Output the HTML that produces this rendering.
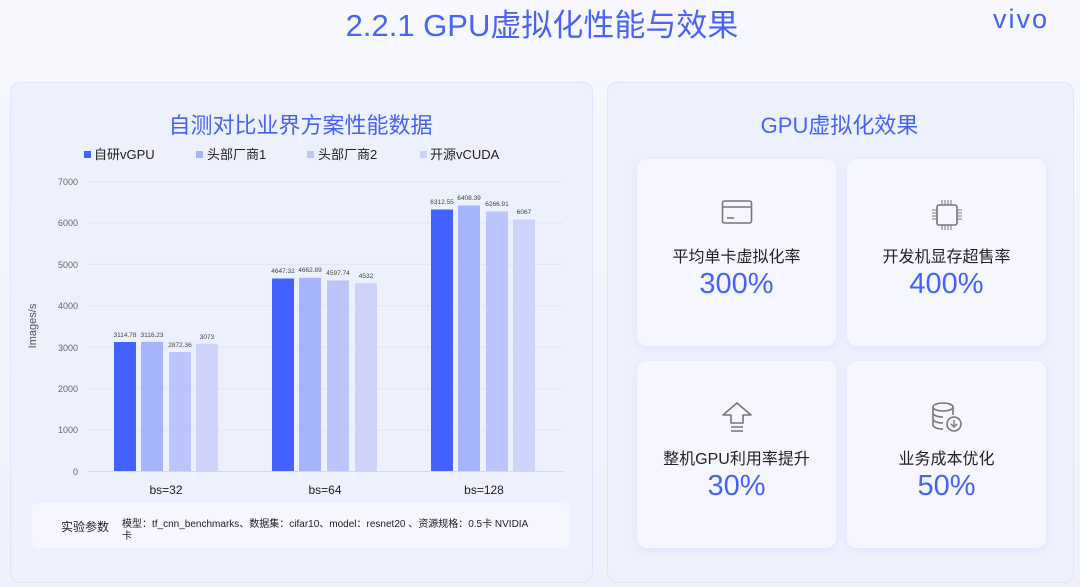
<!DOCTYPE html>
<html><head><meta charset="utf-8"><style>
body{margin:0;width:1080px;height:587px;overflow:hidden;background:linear-gradient(180deg,#f7f7fd 0%,#eef0fc 100%);font-family:"Liberation Sans","Noto Sans CJK SC",sans-serif;position:relative}
.t{position:absolute;white-space:nowrap}
.panel{position:absolute;background:rgba(236,239,253,0.9);border:1px solid #dfe3fb;border-radius:10px}
.card{position:absolute;width:199px;height:187px;background:#f6f7fe;border-radius:10px;box-shadow:0 2px 8px rgba(150,160,230,0.15);text-align:center}
.card .lab{position:absolute;left:0;right:0;top:84px;font-size:16px;color:#222}
.card .val{position:absolute;left:0;right:0;top:109px;font-size:29px;color:#4563f5}
.card svg{position:absolute;left:84px;top:40px}
</style></head><body>
<div class="t" style="left:0;width:1084px;top:0px;text-align:center;font-size:31px;color:#4a63f0">2.2.1 GPU虚拟化性能与效果</div>
<div class="t" style="left:993px;top:4px;font-size:27px;color:#3f63f0;letter-spacing:2px">vivo</div>

<div class="panel" style="left:10px;top:82px;width:581px;height:499px"></div>
<div class="panel" style="left:607px;top:82px;width:465px;height:499px"></div>

<div class="t" style="left:10px;width:581px;top:108px;text-align:center;font-size:22px;color:#4563f0">自测对比业界方案性能数据</div>
<div class="t" style="left:607px;width:465px;top:108px;text-align:center;font-size:22px;color:#4563f0">GPU虚拟化效果</div>

<svg style="position:absolute;left:0;top:0" width="600" height="587" font-family="Liberation Sans, Noto Sans CJK SC, sans-serif">
<g font-size="13" fill="#222">
<rect x="84" y="151" width="7" height="7" fill="#4361ff"/><text x="94" y="159">自研vGPU</text>
<rect x="196" y="151" width="7" height="7" fill="#a7b3fb"/><text x="207" y="159">头部厂商1</text>
<rect x="307" y="151" width="7" height="7" fill="#bcc5fb"/><text x="318" y="159">头部厂商2</text>
<rect x="420" y="151" width="7" height="7" fill="#cdd3fb"/><text x="430" y="159">开源vCUDA</text>
</g>
<g stroke="#e3e5f3" stroke-width="1">
<line x1="88" x2="563" y1="181.5" y2="181.5"/><line x1="88" x2="563" y1="223" y2="223"/><line x1="88" x2="563" y1="264.4" y2="264.4"/><line x1="88" x2="563" y1="305.8" y2="305.8"/><line x1="88" x2="563" y1="347.3" y2="347.3"/><line x1="88" x2="563" y1="388.7" y2="388.7"/><line x1="88" x2="563" y1="430.1" y2="430.1"/>
</g>
<line x1="88" x2="563" y1="471.5" y2="471.5" stroke="#d5d8e8"/>
<g font-size="9" fill="#666" text-anchor="end">
<text x="78" y="185">7000</text><text x="78" y="226">6000</text><text x="78" y="268">5000</text><text x="78" y="309">4000</text><text x="78" y="351">3000</text><text x="78" y="392">2000</text><text x="78" y="433">1000</text><text x="78" y="475">0</text>
</g>
<text transform="translate(36,326) rotate(-90)" font-size="11" fill="#555" text-anchor="middle">Images/s</text>
<g>
<rect x="114" y="342" width="22" height="129" fill="#4361ff"/>
<rect x="141" y="341.9" width="22" height="129.1" fill="#a7b3fb"/>
<rect x="169" y="352" width="22" height="119" fill="#bcc5fb"/>
<rect x="196" y="343.7" width="22" height="127.3" fill="#cdd3fb"/>
<rect x="272" y="278.5" width="22" height="192.5" fill="#4361ff"/>
<rect x="299" y="277.8" width="22" height="193.2" fill="#a7b3fb"/>
<rect x="327" y="280.5" width="22" height="190.5" fill="#bcc5fb"/>
<rect x="355" y="283.2" width="22" height="187.8" fill="#cdd3fb"/>
<rect x="431" y="209.5" width="22" height="261.5" fill="#4361ff"/>
<rect x="458" y="205.5" width="22" height="265.5" fill="#a7b3fb"/>
<rect x="486" y="211.4" width="22" height="259.6" fill="#bcc5fb"/>
<rect x="513" y="219.6" width="22" height="251.4" fill="#cdd3fb"/>
</g>
<g font-size="6.5" fill="#444" text-anchor="middle">
<text x="125" y="337">3114.78</text><text x="152" y="337">3116.23</text><text x="180" y="347">2872.36</text><text x="207" y="339">3073</text>
<text x="283" y="273">4647.32</text><text x="310" y="272">4662.89</text><text x="338" y="275">4597.74</text><text x="366" y="278">4532</text>
<text x="442" y="204">6312.55</text><text x="469" y="200">6408.39</text><text x="497" y="206">6266.91</text><text x="524" y="214">6067</text>
</g>
<g font-size="12" fill="#222" text-anchor="middle">
<text x="166" y="494">bs=32</text><text x="325" y="494">bs=64</text><text x="484" y="494">bs=128</text>
</g>
</svg>

<div style="position:absolute;left:32px;top:503px;width:538px;height:45px;background:#f5f6fe;border-radius:6px"></div>
<div class="t" style="left:61px;top:518px;font-size:12px;color:#222">实验参数</div>
<div class="t" style="left:122px;top:519px;font-size:10px;color:#222;line-height:12px">模型：tf_cnn_benchmarks、数据集：cifar10、model：resnet20 、资源规格：0.5卡 NVIDIA<br>卡</div>

<div class="card" style="left:637px;top:159px">
<svg width="32" height="26" viewBox="0 0 32 26"><rect x="1.5" y="2" width="29" height="22" rx="2" fill="none" stroke="#777" stroke-width="1.6"/><line x1="2" x2="30" y1="8" y2="8" stroke="#777" stroke-width="1.6"/><line x1="6" x2="13" y1="19" y2="19" stroke="#777" stroke-width="1.6"/></svg>
<div class="lab">平均单卡虚拟化率</div><div class="val">300%</div></div>
<div class="card" style="left:847px;top:159px">
<svg width="32" height="32" viewBox="0 0 32 32"><rect x="6" y="6" width="20" height="20" rx="2" fill="none" stroke="#777" stroke-width="1.6"/><g stroke="#777" stroke-width="1"><path d="M11 1v5M14 1v5M17 1v5M20 1v5M11 26v5M14 26v5M17 26v5M20 26v5M1 11h5M1 14h5M1 17h5M1 20h5M26 11h5M26 14h5M26 17h5M26 20h5"/></g></svg>
<div class="lab">开发机显存超售率</div><div class="val">400%</div></div>
<div class="card" style="left:637px;top:361px">
<svg width="32" height="34" viewBox="0 0 32 34"><path d="M16 2L2 14h8v8h12v-8h8z" fill="none" stroke="#777" stroke-width="1.6" stroke-linejoin="round"/><path d="M10 26h12M10 30h12" stroke="#777" stroke-width="1.6"/></svg>
<div class="lab">整机GPU利用率提升</div><div class="val">30%</div></div>
<div class="card" style="left:847px;top:361px">
<svg width="32" height="32" viewBox="0 0 32 32"><ellipse cx="12" cy="6" rx="10" ry="4" fill="none" stroke="#777" stroke-width="1.6"/><path d="M2 6v18c0 2 4 4 10 4M22 6v8M2 12c0 2 4 4 10 4M2 18c0 2 4 4 10 4" fill="none" stroke="#777" stroke-width="1.6"/><circle cx="23" cy="23" r="7" fill="#f6f7fe" stroke="#777" stroke-width="1.6"/><path d="M23 19v7M20 23l3 3 3-3" fill="none" stroke="#777" stroke-width="1.4"/></svg>
<div class="lab">业务成本优化</div><div class="val">50%</div></div>
</body></html>
